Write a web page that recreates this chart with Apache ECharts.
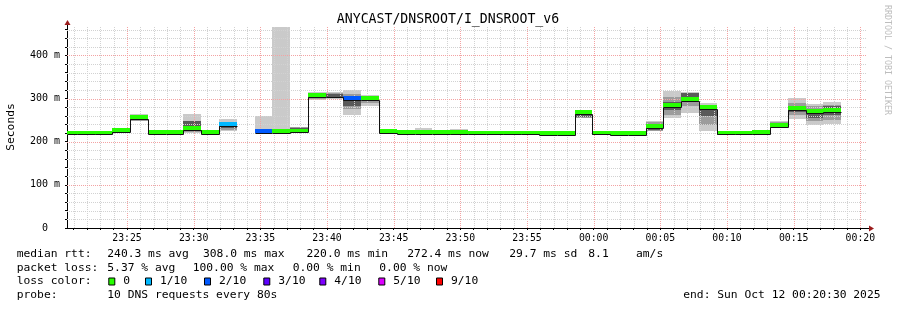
<!DOCTYPE html>
<html><head><meta charset="utf-8">
<script src="https://cdn.jsdelivr.net/npm/echarts@6/dist/echarts.min.js"></script>
<style>html,body{margin:0;padding:0;background:#fff}#c{width:897px;height:310px}</style>
</head><body><div id="c"></div>
<script>
// ---------------- DATA ----------------
const chartTitle = 'ANYCAST/DNSROOT/I_DNSROOT_v6';
const startClock = '23:20:30';
const spanSeconds = 3600;
const stepSeconds = 80;
const firstStepStart = -36;           // seconds relative to startClock
const xTickLabels = ['23:25','23:30','23:35','23:40','23:45','23:50','23:55','00:00','00:05','00:10','00:15','00:20'];
const yTickLabels = [0, 100, 200, 300, 400];
const yMax = 466;

// median rtt per 80 s step (ms), null = no data
const median = [221,221,221,226,257,222,222,231,222,241,
  null,225,225,225.5,308,308,301,301,225,222,
  222.5,222,221.5,221,221,221,221,220.5,220.5,269,
  221,220.5,220.5,236,285,299.5,281,221,221,221.5,
  238,278,271,272.4];
// loss level index into lossColors, null = no colour band
const lossLevel = [0,0,0,0,0,0,0,0,0,1,
  null,2,0,0,0,null,2,0,0,0,
  0,0,0,0,0,0,0,0,0,0,
  0,0,0,0,0,0,0,0,0,0,
  0,0,0,0];
// smoke: outer (min..max ping)
const smokeLo = [219,218,219,221,248,220,219,221,220,224,
  null,222,222,223,297,300,262,282,222,219,
  217,219,219,217,219,218,219,217.5,219,255,
  219,219,217.5,224,255,266,226,219,219,219,
  231,252,239,240];
const smokeHi = [223,224,223,228,265,224,224,265,224,253,
  null,260,480,235,316,315,320,309,227,225,
  232,224,230,226,223,223,223,223,223,272,
  225,223,223,249,317,316,290,223,223,223,
  249,301,288,291];
// smoke: middle pings
const midLo = [null,null,null,null,249,null,null,223,null,227,
  null,null,null,225,299,301,276,290,null,null,
  219,null,null,218,null,null,null,null,null,256,
  null,null,null,226,263,282,238,null,null,null,
  233,262,248,250];
const midHi = [null,null,null,null,262,null,null,249,null,245,
  null,null,null,234,313,313,311,306,null,null,
  226,null,null,225,null,null,null,null,null,270,
  null,null,null,245,303,313,282,null,null,null,
  246,290,282,285];
// smoke: inner pings
const darkLo = [null,null,null,null,250,null,null,236,null,231,
  null,null,null,228,302,303,282,296,null,null,
  null,null,null,218,null,null,null,218,null,257,
  null,null,218,228,274,301,259,null,null,null,
  235,268,255,262];
const darkHi = [null,null,null,null,255,null,null,248,null,238,
  null,null,null,233,307,310,299,304,null,null,
  null,null,null,224,null,null,null,221,null,266,
  null,null,221,233,293,312,278,null,null,null,
  241,276,268,283];

const lossLabels = ['0','1/10','2/10','3/10','4/10','5/10','9/10'];
const lossColors = ['#26ff00','#00b8ff','#0059ff','#5e00ff','#7e00ff','#dd00ff','#ff0000'];
const rttStats = ['240.3 ms avg','308.0 ms max','220.0 ms min','272.4 ms now','29.7 ms sd','8.1','am/s'];
const lossStats = ['5.37 % avg','100.00 % max','0.00 % min','0.00 % now'];
const probeText = '10 DNS requests every 80s';
const endText = 'end: Sun Oct 12 00:20:30 2025';
const watermark = 'RRDTOOL / TOBI OETIKER';

// ---------------- LAYOUT ----------------
const G = {left:67, top:27, width:800, height:201};
const MONO = '"DejaVu Sans Mono", monospace';
const lineOffset = 4, bandHalf = 5;
const rttX = [107.3,203,306.5,407.3,509.3,588.3,636];
const lossX = [107.3,192.7,292.7,379.3];
const swatchX = [108.3,145,204,263.3,319.3,378.3,436];
const legendY = [254.5,268,281.5,295.5];

function toSec(s){const p=s.split(':').map(Number);return p[0]*3600+p[1]*60+(p[2]||0);}
const startSec = toSec(startClock);
const offsetOf = l => (((toSec(l)-startSec)%86400)+86400)%86400;
const xTickOffsets = xTickLabels.map(offsetOf);
const minuteOffsets = [];
for (let s = (60 - startSec % 60) % 60; s <= spanSeconds; s += 60) minuteOffsets.push(s);
const yMinor = [];
for (let v = 0; v <= yMax - 1; v += 20) yMinor.push(v);

const gridData = [];
minuteOffsets.forEach(s => { if (s > 0 && s < spanSeconds) gridData.push([0, s, ((startSec + s)/60) % 5 === 0 ? 1 : 0]); });
yMinor.forEach(v => { if (v > 0) gridData.push([1, v, v % 100 === 0 ? 1 : 0]); });
const steps = median.map((_, i) => [i]);

function stepX(api, i){
  let t0 = Math.max(0, firstStepStart + i*stepSeconds);
  let t1 = Math.min(spanSeconds, firstStepStart + (i+1)*stepSeconds);
  return [Math.round(api.coord([t0,0])[0]), Math.round(api.coord([t1,0])[0])];
}
function yPix(api, v){ return api.coord([0, v])[1]; }
function bandRect(api, cs, x0, x1, lo, hi, fill){
  let yt = Math.max(cs.y, Math.round(yPix(api, hi)));
  let yb = Math.round(yPix(api, lo));
  if (yb - yt < 1) yb = yt + 1;
  return {type:'rect', shape:{x:x0, y:yt, width:x1-x0, height:yb-yt}, style:{fill}};
}

const chart = echarts.init(document.getElementById('c'));
const graphics = [];
function txt(x, y, text, size, opts){
  graphics.push(Object.assign({type:'text', x, y, silent:true,
    style:{text, font: size + 'px ' + MONO, fill:'#000', align:'left', verticalAlign:'middle'}}, opts||{}));
}
txt(448, 19.5, chartTitle, 13.2, {style:{text:chartTitle, font:'13.2px '+MONO, fill:'#000', align:'center', verticalAlign:'middle'}});
graphics.push({type:'text', x:11, y:127, rotation:Math.PI/2, silent:true,
  style:{text:'Seconds', font:'11.3px '+MONO, fill:'#000', align:'center', verticalAlign:'middle'}});
graphics.push({type:'text', x:887.5, y:60, rotation:-Math.PI/2, silent:true,
  style:{text:watermark, font:'8.3px '+MONO, fill:'#bdbdbd', align:'center', verticalAlign:'middle'}});
const LF = 11.3;
txt(16.7, legendY[0], 'median rtt:', LF);
rttStats.forEach((s, k) => txt(rttX[k], legendY[0], s, LF));
txt(16.7, legendY[1], 'packet loss:', LF);
lossStats.forEach((s, k) => txt(lossX[k], legendY[1], s, LF));
txt(16.7, legendY[2], 'loss color:', LF);
lossLabels.forEach((s, k) => {
  graphics.push({type:'rect', silent:true, shape:{x:swatchX[k]+0.5, y:legendY[2]-4+0.5, width:6, height:7},
    style:{fill:lossColors[k], stroke:'#000', lineWidth:1}});
  txt(swatchX[k] + 15, legendY[2], s, LF);
});
txt(16.7, legendY[3], 'probe:', LF);
txt(107.3, legendY[3], probeText, LF);
graphics.push({type:'text', x:880.5, y:legendY[3], silent:true,
  style:{text:endText, font:LF+'px '+MONO, fill:'#000', align:'right', verticalAlign:'middle'}});
// axis extensions and arrows
const xr = G.left + G.width, yb = G.top + G.height;
graphics.push({type:'line', silent:true, shape:{x1:xr, y1:yb+0.5, x2:xr+3, y2:yb+0.5}, style:{stroke:'#000', lineWidth:1}});
graphics.push({type:'polygon', silent:true, shape:{points:[[xr+2,yb-2.5],[xr+7,yb+0.5],[xr+2,yb+3.5]]}, style:{fill:'#9b1c1c'}});
graphics.push({type:'line', silent:true, shape:{x1:G.left+0.5, y1:G.top, x2:G.left+0.5, y2:G.top-3}, style:{stroke:'#000', lineWidth:1}});
graphics.push({type:'polygon', silent:true, shape:{points:[[G.left-2.5,G.top-2],[G.left+0.5,G.top-7],[G.left+3.5,G.top-2]]}, style:{fill:'#9b1c1c'}});

chart.setOption({
  animation:false,
  backgroundColor:'#fff',
  grid:{left:G.left, top:G.top, width:G.width, height:G.height, containLabel:false},
  xAxis:{type:'value', min:0, max:spanSeconds,
    axisLine:{show:true, lineStyle:{color:'#000', width:1}},
    axisTick:{show:true, customValues:minuteOffsets, length:2, lineStyle:{color:'#000'}},
    axisLabel:{customValues:xTickOffsets, formatter:v => xTickLabels[xTickOffsets.indexOf(v)] || '',
      fontFamily:MONO, fontSize:9.8, color:'#000', margin:5},
    splitLine:{show:false}},
  yAxis:{type:'value', min:0, max:yMax,
    axisLine:{show:true, lineStyle:{color:'#000', width:1}},
    axisTick:{show:true, customValues:yMinor, length:2, lineStyle:{color:'#000'}},
    axisLabel:{customValues:yTickLabels, formatter:v => v === 0 ? '0  ' : v + ' m',
      fontFamily:MONO, fontSize:10, color:'#000', margin:7},
    splitLine:{show:false}},
  graphic:graphics,
  series:[
    {type:'custom', name:'smoke', z:1, silent:true, data:steps,
     renderItem(params, api){
       const i = api.value(0); if (median[i] == null) return;
       const cs = params.coordSys; const [x0, x1] = stepX(api, i);
       const ch = [bandRect(api, cs, x0, x1, smokeLo[i], smokeHi[i], '#cacaca')];
       if (midLo[i] != null) ch.push(bandRect(api, cs, x0, x1, midLo[i], midHi[i], '#9c9c9c'));
       if (darkLo[i] != null) ch.push(bandRect(api, cs, x0, x1, darkLo[i], darkHi[i], '#5a5a5a'));
       return {type:'group', children:ch};
     }},
    {type:'custom', name:'grid', z:2, silent:true, data:gridData,
     renderItem(params, api){
       const cs = params.coordSys;
       const kind = api.value(0), v = api.value(1), major = api.value(2);
       const style = {stroke: major ? '#f3a3a3' : '#d2d2d2', lineWidth:1, lineDash:[1,1]};
       if (kind === 0){ const x = Math.round(api.coord([v,0])[0]) + 0.5;
         return {type:'line', shape:{x1:x, y1:cs.y, x2:x, y2:cs.y+cs.height}, style}; }
       const y = Math.round(api.coord([0,v])[1]) + 0.5;
       return {type:'line', shape:{x1:cs.x, y1:y, x2:cs.x+cs.width, y2:y}, style};
     }},
    {type:'custom', name:'loss', z:3, silent:true, data:steps,
     renderItem(params, api){
       const i = api.value(0); if (median[i] == null || lossLevel[i] == null) return;
       const cs = params.coordSys; const [x0, x1] = stepX(api, i);
       const yt = Math.round(yPix(api, median[i] + bandHalf)), ybt = Math.round(yPix(api, median[i] - bandHalf));
       return {type:'rect', shape:{x:x0, y:yt, width:x1-x0, height:ybt-yt}, style:{fill:lossColors[lossLevel[i]]}};
     }},
    {type:'custom', name:'median', z:4, silent:true, data:steps,
     renderItem(params, api){
       const i = api.value(0); if (median[i] == null) return;
       const [x0, x1] = stepX(api, i);
       const y = Math.round(yPix(api, median[i] - lineOffset)) + 0.5;
       const pts = [];
       if (i > 0 && median[i-1] != null) pts.push([x0 + 0.5, Math.round(yPix(api, median[i-1] - lineOffset)) + 0.5]);
       pts.push([x0 + 0.5, y]); pts.push([x1 + 0.5, y]);
       return {type:'polyline', shape:{points:pts}, style:{stroke:'#111', lineWidth:1, fill:null}};
     }}
  ]
});
</script></body></html>
